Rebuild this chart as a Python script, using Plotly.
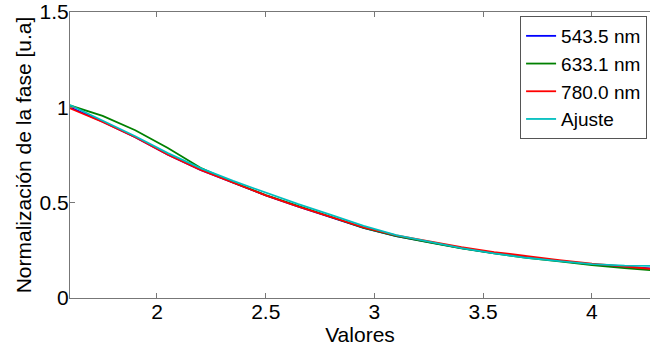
import plotly.graph_objects as go

x_vals = [1.6, 1.75, 1.9, 2.05, 2.2, 2.35, 2.5, 2.65, 2.8, 2.95, 3.1, 3.25, 3.4, 3.55, 3.7, 3.85, 4.0, 4.15, 4.3]

s543 = [1.000, 0.925, 0.843, 0.752, 0.672, 0.603, 0.538, 0.479, 0.423, 0.368, 0.325, 0.292, 0.262, 0.236, 0.214, 0.195, 0.176, 0.163, 0.152]
s633 = [1.010, 0.955, 0.880, 0.787, 0.683, 0.606, 0.540, 0.481, 0.425, 0.368, 0.325, 0.292, 0.261, 0.234, 0.211, 0.192, 0.172, 0.157, 0.143]
s780 = [0.995, 0.923, 0.843, 0.752, 0.672, 0.603, 0.538, 0.479, 0.423, 0.370, 0.328, 0.296, 0.267, 0.241, 0.219, 0.199, 0.180, 0.165, 0.150]
ajuste = [1.012, 0.930, 0.848, 0.760, 0.681, 0.614, 0.551, 0.492, 0.436, 0.378, 0.330, 0.294, 0.262, 0.234, 0.211, 0.193, 0.178, 0.170, 0.168]

names = ["543.5 nm", "633.1 nm", "780.0 nm", "Ajuste"]
colors = ["#0000ff", "#008000", "#ff0000", "#00bfbf"]
series = [s543, s633, s780, ajuste]

x_ticks = [2, 2.5, 3, 3.5, 4]
x_ticktext = ["2", "2.5", "3", "3.5", "4"]
y_ticks = [0, 0.5, 1, 1.5]
y_ticktext = ["0", "0.5", "1", "1.5"]

fig = go.Figure()
for n, c, s in zip(names, colors, series):
    fig.add_trace(go.Scatter(x=x_vals, y=s, mode="lines", name=n,
                             line=dict(color=c, width=1.8)))

font_family = "Liberation Sans, Arial, sans-serif"
fig.update_layout(
    width=650, height=348,
    margin=dict(l=70, r=0, t=12, b=50, autoexpand=False),
    paper_bgcolor="white", plot_bgcolor="white",
    font=dict(family=font_family, size=21, color="black"),
    showlegend=True,
    legend=dict(x=0.776, y=0.986, xanchor="left", yanchor="top",
                bgcolor="white", bordercolor="#555", borderwidth=1,
                font=dict(size=19), itemwidth=30, tracegroupgap=0),
    xaxis=dict(range=[1.6, 4.267], tickvals=x_ticks, ticktext=x_ticktext,
               showgrid=False, zeroline=False, showline=True, linecolor="#777",
               linewidth=1, mirror="ticks", ticks="inside", ticklen=5,
               tickcolor="#777", ticklabelstandoff=-5, automargin=False,
               title=dict(text="Valores", standoff=0, font=dict(size=21))),
    yaxis=dict(range=[0, 1.5], tickvals=y_ticks, ticktext=y_ticktext,
               showgrid=False, zeroline=False, showline=True, linecolor="#777",
               linewidth=1, ticks="inside", ticklen=5, tickcolor="#777",
               ticklabelstandoff=-4, automargin=False,
               title=dict(text="Normalización de la fase [u.a]", standoff=2,
                          font=dict(size=21))),
)

fig.write_html("out.html", config={"displayModeBar": False},
               post_script="document.body.style.margin='0';document.body.style.overflow='hidden';")
